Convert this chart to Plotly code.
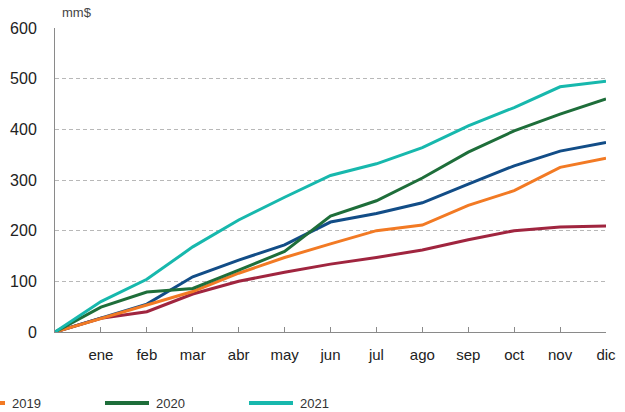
import plotly.graph_objects as go

months = ["", "ene", "feb", "mar", "abr", "may", "jun", "jul", "ago", "sep", "oct", "nov", "dic"]

s_maroon = [0, 27, 40, 75, 100, 118, 134, 147, 162, 182, 200, 207, 209]
s_blue = [0, 27, 55, 109, 142, 172, 217, 234, 255, 292, 328, 357, 374]
s_2019 = [0, 27, 54, 80, 116, 147, 174, 200, 211, 250, 279, 325, 343]
s_2020 = [0, 49, 79, 86, 122, 159, 229, 259, 304, 355, 397, 430, 460]
s_2021 = [0, 60, 104, 168, 221, 266, 309, 332, 364, 407, 443, 484, 495]

y_ticks = [0, 100, 200, 300, 400, 500, 600]
legend_names = ["2019", "2020", "2021"]

C_MAROON = "#a0253f"
C_BLUE = "#124d87"
C_ORANGE = "#f27a24"
C_GREEN = "#1e6e3a"
C_TEAL = "#17b8ad"

W, H = 625, 412
L, R, T, B = 55, 19, 28, 80
pw = W - L - R

x = list(range(len(months)))

fig = go.Figure()
series = [
    ("maroon", s_maroon, C_MAROON),
    ("blue", s_blue, C_BLUE),
    ("2019", s_2019, C_ORANGE),
    ("2020", s_2020, C_GREEN),
    ("2021", s_2021, C_TEAL),
]
for name, vals, col in series:
    fig.add_trace(go.Scatter(x=x, y=vals, mode="lines", name=name,
                             line=dict(color=col, width=3), showlegend=False,
                             hoverinfo="skip"))

font = "Liberation Sans, Arial, sans-serif"

fig.update_layout(
    width=W, height=H,
    margin=dict(l=L, r=R, t=T, b=B, autoexpand=False),
    paper_bgcolor="white", plot_bgcolor="white",
    font=dict(family=font, color="#222"),
    showlegend=False,
)
fig.update_xaxes(
    range=[0, 12], tickvals=x[1:], ticktext=months[1:],
    showgrid=False, zeroline=False,
    showline=True, linecolor="#8a8a8a", linewidth=1,
    ticks="inside", ticklen=5, tickcolor="#8a8a8a",
    tickfont=dict(size=15, color="#222"),
    ticklabelstandoff=9,
)
fig.update_yaxes(
    range=[0, 600], tickvals=y_ticks,
    showgrid=True, gridcolor="#b8b8b8", griddash="4px,3px", gridwidth=1,
    zeroline=False, showline=True, linecolor="#8a8a8a", linewidth=1,
    ticks="", tickfont=dict(size=16, color="#222"),
    ticklabelstandoff=14,
)

fig.add_annotation(text="mm$", xref="paper", yref="paper",
                   x=(77 - L) / pw, y=1, yshift=6, xanchor="center", yanchor="bottom",
                   showarrow=False, font=dict(size=13, color="#444", family=font))

# manual legend (partially clipped at the left edge, as in reference)
leg_cols = [C_ORANGE, C_GREEN, C_TEAL]
leg_y_px = 403
for i, (nm, col) in enumerate(zip(legend_names, leg_cols)):
    x1 = 5 + 144 * i
    x0 = x1 - 44
    fig.add_shape(type="line", xref="paper", yref="paper",
                  x0=(x0 - L) / pw, x1=(x1 - L) / pw,
                  y0=-(leg_y_px - (H - B)) / (H - T - B), y1=-(leg_y_px - (H - B)) / (H - T - B),
                  line=dict(color=col, width=4))
    fig.add_annotation(text=nm, xref="paper", yref="paper",
                       x=(x1 + 5 - L) / pw, y=-(leg_y_px - (H - B)) / (H - T - B),
                       xanchor="left", yanchor="middle", showarrow=False,
                       font=dict(size=13, color="#333", family=font))

fig.write_html("out.html", config={"displayModeBar": False},
               post_script="document.body.style.margin='0';document.body.style.padding='0';document.body.style.overflow='hidden';")
